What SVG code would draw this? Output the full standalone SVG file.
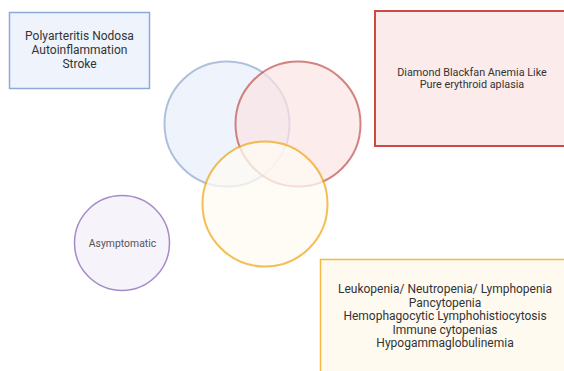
<svg xmlns="http://www.w3.org/2000/svg" width="564" height="371" viewBox="0 0 564 371">
<style>
text{font-family:Roboto,"Liberation Sans",sans-serif;fill:#333;text-anchor:middle}
.t12{font-size:12px}
.t10{font-size:10.8px}
</style>
<rect width="564" height="371" fill="#fff"/>
<g id="box-blue">
<rect x="9.5" y="12.5" width="140" height="76" fill="#eef3fc" stroke="#8eaadb" stroke-width="1.5"/>
<text class="t12" x="79.5" y="39.5">Polyarteritis Nodosa</text>
<text class="t12" x="79.5" y="53.5">Autoinflammation</text>
<text class="t12" x="79.5" y="67.5">Stroke</text>
</g>
<g id="box-red">
<rect x="375" y="11" width="200" height="135" fill="#fcebeb" stroke="#cc4a45" stroke-width="2"/>
<text class="t10" x="472" y="76">Diamond Blackfan Anemia Like</text>
<text class="t10" x="472" y="88">Pure erythroid aplasia</text>
</g>
<g id="box-yellow">
<rect x="320.5" y="259.5" width="252" height="120" fill="#fffaf0" stroke="#f5b942" stroke-width="1.5"/>
<text class="t12" x="445" y="293">Leukopenia/ Neutropenia/ Lymphopenia</text>
<text class="t12" x="445" y="306.5">Pancytopenia</text>
<text class="t12" x="445" y="320">Hemophagocytic Lymphohistiocytosis</text>
<text class="t12" x="445" y="333.5">Immune cytopenias</text>
<text class="t12" x="445" y="347">Hypogammaglobulinemia</text>
</g>
<g id="circle-blue" opacity="0.55">
<circle cx="227" cy="124" r="62.5" fill="#e2ecfb" stroke="#6c8ebf" stroke-width="2"/>
</g>
<g id="circle-red" opacity="0.7">
<circle cx="298" cy="124" r="62.5" fill="#fbe4e4" stroke="#c0504c" stroke-width="2"/>
</g>
<g id="circle-yellow" opacity="0.75">
<circle cx="265" cy="204" r="62.5" fill="#fffbf3" stroke="#f2a81d" stroke-width="2"/>
</g>
<g id="circle-purple">
<circle cx="122" cy="243" r="47.5" fill="#f6f3fa" stroke="#a68bcb" stroke-width="1.5"/>
<text x="122.5" y="247" style="font-size:10.4px;fill:#555">Asymptomatic</text>
</g>
<g id="connectors"/>
</svg>
